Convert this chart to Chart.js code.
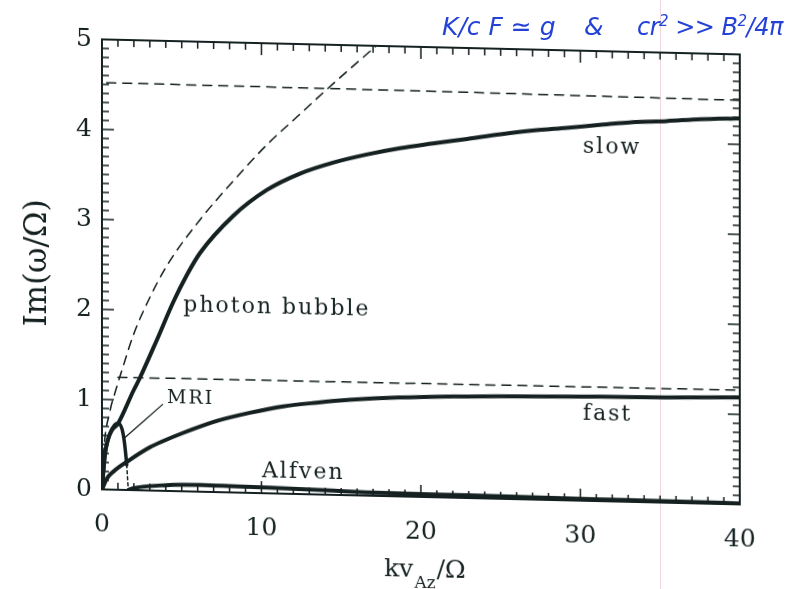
<!DOCTYPE html>
<html>
<head>
<meta charset="utf-8">
<script src="https://cdn.jsdelivr.net/npm/chart.js@4.4.1/dist/chart.umd.min.js"></script>
<style>
  html, body { margin: 0; padding: 0; background: #fff; }
  #wrap { position: relative; width: 804px; height: 589px; overflow: hidden; }
  /* the scanned page is slightly sheared, so is the plot */
  #box { position: absolute; left: 0; top: 0; width: 804px; height: 589px; transform: skewY(1.35deg); transform-origin: 0 0; }
  #scan { position: absolute; left: 660px; top: 0; width: 1px; height: 589px; background: #f1d6df; }
  .note { position: absolute; top: 12px; color: #2442d6; font-family: "DejaVu Sans"; font-style: italic; font-size: 25px; white-space: nowrap; }
  .note sup { font-size: 15px; }
</style>
</head>
<body>
<div id="wrap">
  <div id="scan"></div>
  <div id="box"><canvas id="chart"></canvas></div>
  <div class="note" style="left:442px;">K/c F ≃ g</div>
  <div class="note" style="left:584px;">&amp;</div>
  <div class="note" style="left:637px; font-size:24px; letter-spacing:-0.5px;">cr<sup>2</sup> &gt;&gt; B<sup>2</sup>/4π</div>
</div>
<script>
// curves (x = kv_Az/Omega, y = Im(omega/Omega))
const slowX = [0, 0.19, 0.5, 1.02, 1.96, 2.38, 3.43, 4.47, 5.31, 6.14, 8.21, 10.34, 12.41, 14.48, 16.6, 18.7, 20.75, 22.9, 25, 27, 29.15, 31.2, 33.3, 35.4, 37.5, 40];
const slowY = [0, 0.39, 0.62, 0.74, 1.10, 1.25, 1.67, 2.10, 2.40, 2.65, 3.07, 3.37, 3.56, 3.69, 3.79, 3.87, 3.93, 3.99, 4.05, 4.10, 4.14, 4.18, 4.22, 4.24, 4.27, 4.29];

const fastX = [0, 0.3, 0.71, 1.7, 3.0, 3.8, 5.1, 7.19, 9.28, 11.37, 13.46, 15.55, 18.68, 24.95, 31.2, 35.4, 40];
const fastY = [0, 0.12, 0.2, 0.33, 0.48, 0.55, 0.65, 0.79, 0.89, 0.97, 1.02, 1.06, 1.10, 1.14, 1.16, 1.17, 1.19];

const alfvenX = [1.65, 1.94, 4.06, 6.14, 8.2, 10.3, 12.4, 14.5, 16.6, 18.7, 22.9, 27, 31.2, 35.4, 40];
const alfvenY = [0, 0.02, 0.064, 0.074, 0.069, 0.063, 0.056, 0.047, 0.037, 0.032, 0.03, 0.024, 0.02, 0.017, 0.012];

const mriX = [0, 0.19, 0.5, 0.8, 1.02, 1.25, 1.4, 1.5, 1.55];
const mriY = [0, 0.39, 0.62, 0.72, 0.74, 0.68, 0.54, 0.38, 0.28];
const mriDropX = [1.55, 1.65];
const mriDropY = [0.28, 0];

const bubbleX = [0, 0.1, 0.5, 0.82, 1.34, 1.96, 2.88, 4.06, 6.14, 8.23, 10.33, 12.41, 14.2, 17.2];
const bubbleY = [0, 0.4, 0.87, 1.08, 1.38, 1.72, 2.1, 2.5, 3.02, 3.46, 3.87, 4.22, 4.52, 5.0];

const upperDashX = [0.3, 20, 40];
const upperDashY = [4.52, 4.51, 4.49];
const lowerDashX = [1.0, 20, 40];
const lowerDashY = [1.25, 1.26, 1.27];

const pointerX = [3.8, 1.43];
const pointerY = [0.96, 0.58];

const xTicks = [0, 10, 20, 30, 40];
const yTicks = [0, 1, 2, 3, 4, 5];

const noteText = ["photon bubble", "slow", "fast", "Alfven", "MRI"];
const noteX = [5.1, 30.16, 30.16, 10.03, 4.08];
const noteY = [2.0, 3.87, 0.90, 0.18, 0.98];

const ink = "#152020";

function pts(xs, ys) {
    return xs.map((v, i) => ({ x: v, y: ys[i] }));
}

function curve(xs, ys, width, dash) {
    return {
        data: pts(xs, ys),
        showLine: true,
        pointRadius: 0,
        borderColor: ink,
        borderWidth: width,
        borderDash: dash || [],
        cubicInterpolationMode: "monotone",
        borderCapStyle: "round"
    };
}

/* frame, inward ticks on all sides, labels, x title */
const paper = {
    id: "paper",
    afterDraw(chart) {
        const { ctx, chartArea: a, scales: { x, y } } = chart;
        ctx.save();
        ctx.setLineDash([]);
        ctx.strokeStyle = ink;
        ctx.lineWidth = 2;
        ctx.strokeRect(a.left, a.top, a.right - a.left, a.bottom - a.top);

        ctx.lineWidth = 1.5;
        ctx.beginPath();
        for (let i = 0; i <= 40; i++) {
            const px = x.getPixelForValue(i), len = i % 10 === 0 ? 12 : 7;
            ctx.moveTo(px, a.bottom); ctx.lineTo(px, a.bottom - len);
            ctx.moveTo(px, a.top); ctx.lineTo(px, a.top + len);
        }
        for (let i = 0; i <= 50; i++) {
            const py = y.getPixelForValue(i / 10), len = i % 10 === 0 ? 12 : 7;
            ctx.moveTo(a.left, py); ctx.lineTo(a.left + len, py);
            ctx.moveTo(a.right, py); ctx.lineTo(a.right - len, py);
        }
        ctx.stroke();

        ctx.fillStyle = ink;
        ctx.textAlign = "left";
        ctx.textBaseline = "alphabetic";
        ctx.letterSpacing = "2px";
        noteText.forEach((t, i) => {
            ctx.font = (t === "MRI" ? "19px" : "22px") + ' "DejaVu Serif"';
            ctx.fillText(t, x.getPixelForValue(noteX[i]), y.getPixelForValue(noteY[i]));
        });

        // kv_Az / Omega
        ctx.letterSpacing = "0px";
        const big = '25px "DejaVu Serif"', small = '17px "DejaVu Serif"';
        ctx.font = big;
        const w1 = ctx.measureText("kv").width;
        const w3 = ctx.measureText("/Ω").width;
        ctx.font = small;
        const w2 = ctx.measureText("Az").width + 2;
        const base = a.bottom + 80;
        let sx = (a.left + a.right) / 2 + 4 - (w1 + w2 + w3) / 2;
        ctx.font = big;
        ctx.fillText("kv", sx, base);
        ctx.font = small;
        ctx.fillText("Az", sx + w1 + 1, base + 11);
        ctx.font = big;
        ctx.fillText("/Ω", sx + w1 + w2, base);
        ctx.restore();
    }
};

Chart.defaults.color = ink;
Chart.defaults.font.family = '"DejaVu Serif"';

new Chart(document.getElementById("chart"), {
    type: "scatter",
    data: {
        datasets: [
            curve(slowX, slowY, 4),
            curve(fastX, fastY, 4),
            curve(alfvenX, alfvenY, 4),
            curve(mriX, mriY, 3.5),
            curve(mriDropX, mriDropY, 1.5, [3, 3]),
            curve(bubbleX, bubbleY, 1.5, [9, 7]),
            curve(upperDashX, upperDashY, 1.5, [9, 7]),
            curve(lowerDashX, lowerDashY, 1.5, [9, 7]),
            curve(pointerX, pointerY, 1.2)
        ]
    },
    options: {
        responsive: true,
        maintainAspectRatio: false,
        animation: false,
        events: [],
        layout: { padding: { left: 0, right: 64, top: 37, bottom: 0 } },
        plugins: { legend: { display: false }, tooltip: { enabled: false } },
        scales: {
            x: {
                type: "linear",
                min: 0, max: 40,
                afterFit: s => { s.height = 102; },
                afterBuildTicks: s => { s.ticks = xTicks.map(v => ({ value: v })); },
                grid: { display: false, drawTicks: false },
                border: { display: false },
                ticks: { font: { size: 25 }, padding: 20, maxRotation: 0 }
            },
            y: {
                type: "linear",
                min: 0, max: 5,
                afterFit: s => { s.width = 102; },
                afterBuildTicks: s => { s.ticks = yTicks.map(v => ({ value: v })); },
                grid: { display: false, drawTicks: false },
                border: { display: false },
                ticks: { font: { size: 25 }, padding: 10 },
                title: {
                    display: true,
                    text: "Im(ω/Ω)",
                    font: { size: 31 },
                    padding: { top: 19, bottom: 0 }
                }
            }
        }
    },
    plugins: [paper]
});
</script>
</body>
</html>
